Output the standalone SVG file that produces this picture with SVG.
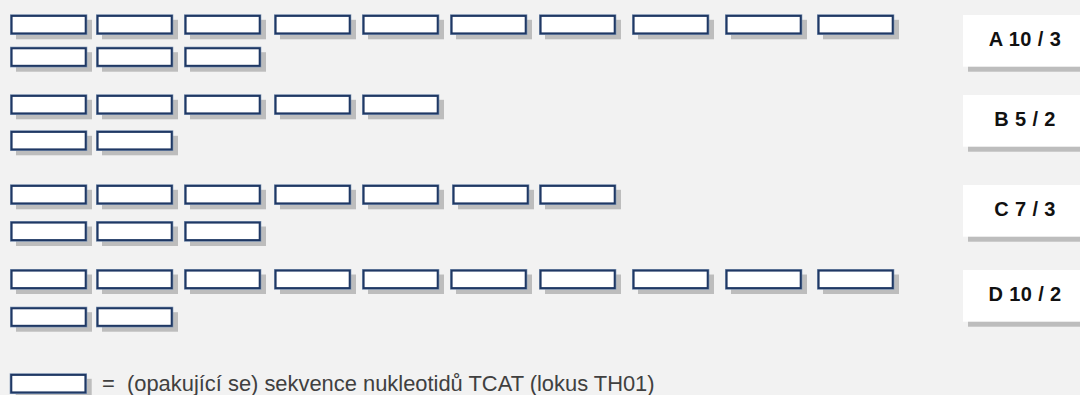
<svg xmlns="http://www.w3.org/2000/svg" xmlns:xlink="http://www.w3.org/1999/xlink" width="1080" height="395" viewBox="0 0 1080 395">
<style>
.sh{fill:#bdbdbd}
.bo{fill:#ffffff;stroke:#8197b6;stroke-width:1.5}
.bi{fill:none;stroke:#1f3864;stroke-width:2}
.lb{fill:#ffffff}
.lt{font-family:"Liberation Sans",Arial,sans-serif;font-weight:bold;font-size:20px;letter-spacing:0.4px;fill:#111111;text-anchor:middle}
.leg{font-family:"Liberation Sans",Arial,sans-serif;font-size:21.9px;fill:#404040}
</style>
<defs>
<g id="tcat">
<rect class="sh" x="6" y="5.5" width="76" height="19.5"/>
<rect class="bo" x="0.75" y="0.75" width="75.8" height="19.2"/>
<rect class="bi" x="1.6" y="1.6" width="74.1" height="17.5"/>
</g>
</defs>
<rect width="1080" height="395" fill="#f2f2f2"/>
<g id="rowA">
<use href="#tcat" x="10" y="14.3"/><use href="#tcat" x="96" y="14.3"/><use href="#tcat" x="184" y="14.3"/><use href="#tcat" x="274" y="14.3"/><use href="#tcat" x="362" y="14.3"/><use href="#tcat" x="450" y="14.3"/><use href="#tcat" x="539" y="14.3"/><use href="#tcat" x="632" y="14.3"/><use href="#tcat" x="725" y="14.3"/><use href="#tcat" x="817" y="14.3"/>
<use href="#tcat" x="10" y="46.7"/><use href="#tcat" x="96" y="46.7"/><use href="#tcat" x="184" y="46.7"/>
</g>
<g id="rowB">
<use href="#tcat" x="10" y="94.3"/><use href="#tcat" x="96" y="94.3"/><use href="#tcat" x="184" y="94.3"/><use href="#tcat" x="274" y="94.3"/><use href="#tcat" x="362" y="94.3"/>
<use href="#tcat" x="10" y="130.3"/><use href="#tcat" x="96" y="130.3"/>
</g>
<g id="rowC">
<use href="#tcat" x="10" y="184.3"/><use href="#tcat" x="96" y="184.3"/><use href="#tcat" x="184" y="184.3"/><use href="#tcat" x="274" y="184.3"/><use href="#tcat" x="362" y="184.3"/><use href="#tcat" x="452" y="184.3"/><use href="#tcat" x="539" y="184.3"/>
<use href="#tcat" x="10" y="221"/><use href="#tcat" x="96" y="221"/><use href="#tcat" x="184" y="221"/>
</g>
<g id="rowD">
<use href="#tcat" x="10" y="269"/><use href="#tcat" x="96" y="269"/><use href="#tcat" x="184" y="269"/><use href="#tcat" x="274" y="269"/><use href="#tcat" x="362" y="269"/><use href="#tcat" x="450" y="269"/><use href="#tcat" x="539" y="269"/><use href="#tcat" x="632" y="269"/><use href="#tcat" x="725" y="269"/><use href="#tcat" x="817" y="269"/>
<use href="#tcat" x="10" y="306.7"/><use href="#tcat" x="96" y="306.7"/>
</g>
<g id="labelA"><rect class="sh" x="968" y="20" width="117" height="51.7"/><rect class="lb" x="963" y="15" width="117" height="51.7"/><text class="lt" x="1025" y="46">A 10 / 3</text></g>
<g id="labelB"><rect class="sh" x="968" y="100" width="117" height="51.7"/><rect class="lb" x="963" y="95" width="117" height="51.7"/><text class="lt" x="1025" y="126">B 5 / 2</text></g>
<g id="labelC"><rect class="sh" x="968" y="190" width="117" height="51.7"/><rect class="lb" x="963" y="185" width="117" height="51.7"/><text class="lt" x="1025" y="216">C 7 / 3</text></g>
<g id="labelD"><rect class="sh" x="968" y="275" width="117" height="51.7"/><rect class="lb" x="963" y="270" width="117" height="51.7"/><text class="lt" x="1025" y="301">D 10 / 2</text></g>
<g id="legend">
<use href="#tcat" x="9.7" y="373.3"/>
<text class="leg" x="102" y="391" xml:space="preserve">=  (opakující se) sekvence nukleotidů TCAT (lokus TH01)</text>
</g>
</svg>
